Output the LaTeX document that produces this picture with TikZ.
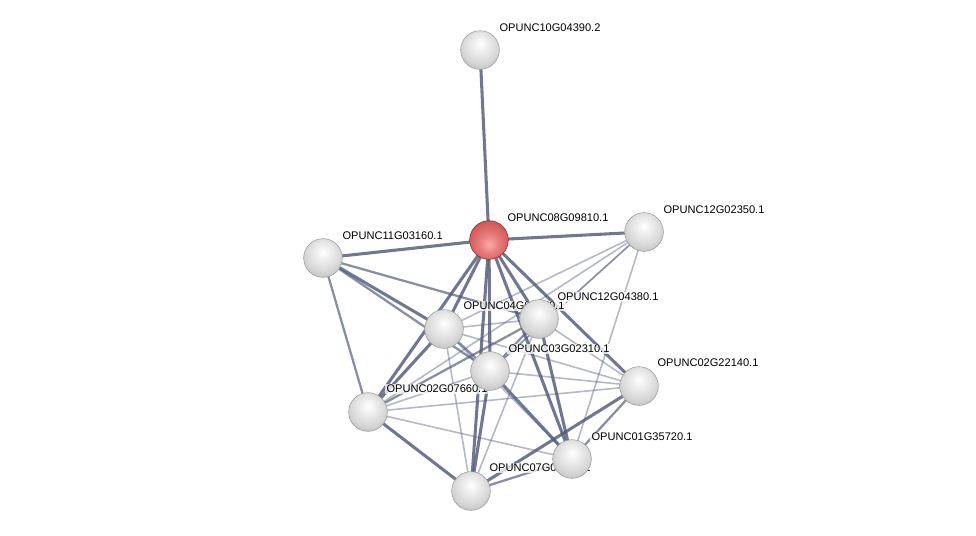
\documentclass[tikz,border=0pt]{standalone}
\usepackage{fontspec}
\setmainfont{Liberation Sans}
\usetikzlibrary{calc}
\definecolor{edgec}{RGB}{80,90,122}
\definecolor{r0}{RGB}{248,170,170}
\definecolor{r1}{RGB}{232,125,125}
\definecolor{r2}{RGB}{212,92,92}
\definecolor{r3}{RGB}{185,66,66}
\definecolor{r4}{RGB}{130,40,40}
\pgfdeclareradialshading{sphereW}{\pgfpoint{0bp}{8bp}}{%
  color(0bp)=(white); color(10bp)=(white!93!black); color(22bp)=(white!85!black);
  color(32bp)=(white!76!black); color(40bp)=(white!64!black); color(50bp)=(white!50!black); color(80bp)=(white!50!black)}
\pgfdeclareradialshading{sphereR}{\pgfpoint{0bp}{-6bp}}{%
  color(0bp)=(r0); color(12bp)=(r1); color(26bp)=(r2);
  color(38bp)=(r3); color(50bp)=(r4); color(80bp)=(r4)}
\tikzset{
  strong/.style={draw=edgec, line width=2.3pt, draw opacity=0.82},
  medium/.style={draw=edgec, line width=1.7pt, draw opacity=0.68},
  weak/.style={draw=edgec, line width=1.2pt, draw opacity=0.42},
  prot/.style={circle, minimum size=29pt, inner sep=0pt, shading=sphereW, draw=gray!80, line width=0.4pt},
  seed/.style={prot, shading=sphereR, draw=r4},
  lbl/.style={anchor=west, font=\fontsize{8.3}{10}\selectfont, fill=white, fill opacity=0.75, text opacity=1, inner sep=1pt}
}
\begin{document}
\begin{tikzpicture}[x=0.75pt,y=-0.75pt]
\useasboundingbox[fill=white] (0,0) rectangle (976,536);
% coordinates of proteins
\coordinate (A) at (480,50);
\coordinate (B) at (489,240);
\coordinate (C) at (644,232);
\coordinate (D) at (323,258);
\coordinate (E) at (444,329);
\coordinate (F) at (539,319);
\coordinate (G) at (490,371);
\coordinate (H) at (639,386);
\coordinate (I) at (368,412);
\coordinate (J) at (572,459);
\coordinate (K) at (471,491);
% weak edges
\foreach \u/\v in {C/E,C/G,C/I,C/J,I/H,E/K,F/K,E/F,I/J,E/H,G/H,F/H,G/C,I/G,E/J}
  \draw[weak] (\u) -- (\v);
% medium edges
\foreach \u/\v in {D/F,F/I,F/G,H/J,K/J,I/D,G/E,D/G}
  \draw[medium] (\u) -- (\v);
% strong edges
\foreach \u/\v in {A/B,B/D,B/C,B/E,B/I,B/G,B/K,B/F,B/J,B/H,D/E,E/I,G/K,K/H,G/J,F/J,I/K}
  \draw[strong] (\u) -- (\v);
% labels
\node[lbl] (lA) at ($(A)+(18,-22)$) {OPUNC10G04390.2};
\node[lbl] (lB) at ($(B)+(17,-22)$) {OPUNC08G09810.1};
\node[lbl] (lC) at ($(C)+(18,-22)$) {OPUNC12G02350.1};
\node[lbl] (lD) at ($(D)+(18,-22)$) {OPUNC11G03160.1};
\node[lbl] (lE) at ($(E)+(18,-23)$) {OPUNC04G02270.1};
\node[lbl] (lF) at ($(F)+(17,-22)$) {OPUNC12G04380.1};
\node[lbl] (lG) at ($(G)+(17,-22)$) {OPUNC03G02310.1};
\node[lbl] (lH) at ($(H)+(17,-23)$) {OPUNC02G22140.1};
\node[lbl] (lI) at ($(I)+(17,-23)$) {OPUNC02G07660.1};
\node[lbl] (lJ) at ($(J)+(18,-22)$) {OPUNC01G35720.1};
\node[lbl] (lK) at ($(K)+(17,-23)$) {OPUNC07G02220.1};
% protein spheres
\foreach \p in {A,C,D,E,F,G,H,I,J,K}
  \node[prot] (n\p) at (\p) {};
\node[seed] (nB) at (B) {};
\end{tikzpicture}
\end{document}
